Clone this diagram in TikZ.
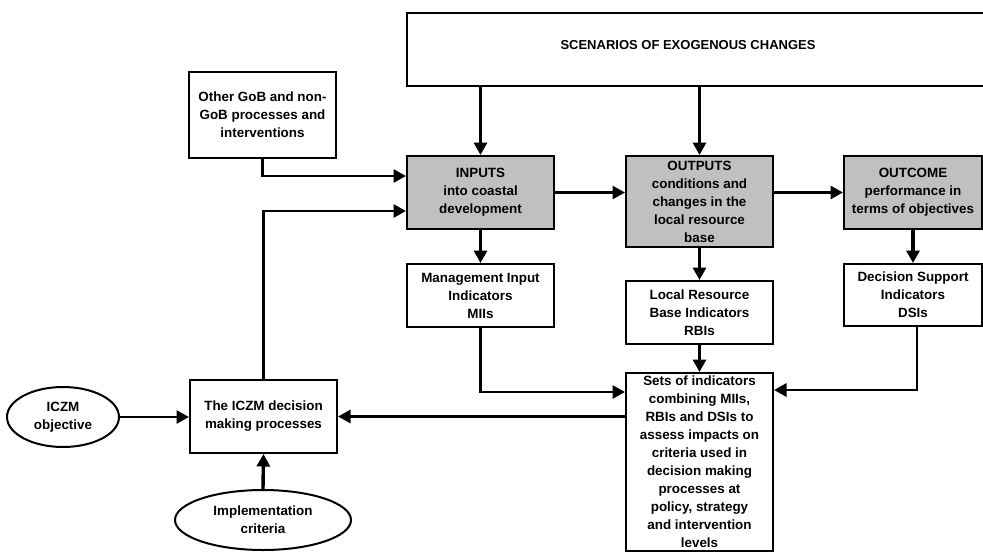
\documentclass[tikz,border=0pt]{standalone}
\usepackage{fontspec}
\setmainfont{Liberation Sans}
\usetikzlibrary{arrows.meta,shapes.geometric}
\definecolor{boxgray}{RGB}{192,192,192}
\begin{document}
\begin{tikzpicture}[x=1pt,y=-1pt,
  txt/.style={font=\fontsize{13.4}{18}\selectfont\bfseries, align=center},
  box/.style={txt, draw, line width=2pt, inner sep=0pt},
  gbox/.style={box, fill=boxgray},
  ell/.style={txt, draw, ellipse, line width=2pt, inner sep=0pt},
  conn/.style={line width=2.8pt, -{Triangle[length=12.5pt,width=13pt]}},
  vconn/.style={conn, line width=3.4pt}]
\useasboundingbox (0,0) rectangle (983,552);
\begin{scope}
\clip (0,0) rectangle (983,552);
\node[box, minimum width=584, minimum height=73, anchor=north west] (scen) at (406,12) {};
\node[font=\fontsize{13}{15}\selectfont\bfseries] (scentext) at (688,45) {SCENARIOS OF EXOGENOUS CHANGES};
\node[box, minimum width=147, minimum height=86] (other) at (262.5,115) {Other GoB and non-\\GoB processes and\\interventions};
\node[gbox, minimum width=147, minimum height=73] (inputs) at (480.5,192.5) {INPUTS\\into coastal\\development};
\node[gbox, minimum width=147, minimum height=91] (outputs) at (699.5,201.5) {OUTPUTS\\conditions and\\changes in the\\local resource\\base};
\node[gbox, minimum width=138, minimum height=73] (outcome) at (913,192.5) {OUTCOME\\performance in\\terms of objectives};
\node[box, minimum width=147, minimum height=63] (mii) at (480.5,295.5) {Management Input\\Indicators\\MIIs};
\node[box, minimum width=147, minimum height=63] (rbi) at (699.5,312.5) {Local Resource\\Base Indicators\\RBIs};
\node[box, minimum width=138, minimum height=62] (dsi) at (913,295) {Decision Support\\Indicators\\DSIs};
\node[box, minimum width=147, minimum height=178] (sets) at (699.5,462) {Sets of indicators\\combining MIIs,\\RBIs and DSIs to\\assess impacts on\\criteria used in\\decision making\\processes at\\policy, strategy\\and intervention\\levels};
\node[box, minimum width=147, minimum height=73] (dec) at (263.5,416.5) {The ICZM decision\\making processes};
\node[ell, minimum width=112, minimum height=60] (obj) at (63,417) {ICZM\\objective};
\node[ell, minimum width=176, minimum height=60] (impl) at (263,520) {Implementation\\criteria};

\draw[vconn] (scen.south -| inputs.north) -- (inputs.north);
\draw[vconn] (scen.south -| outputs.north) -- (outputs.north);
\draw[conn] (other.south) |- ([yshift=16.5pt]inputs.west);
\draw[conn] (dec.north) |- ([yshift=-18.5pt]inputs.west);
\draw[conn] (inputs.east) -- (inputs.east -| outputs.west);
\draw[conn] (outcome.west -| outputs.east) -- (outcome.west);
\draw[vconn] (inputs.south) -- (mii.north);
\draw[vconn] (outputs.south) -- (rbi.north);
\draw[vconn] (outcome.south) -- (dsi.north);
\draw[vconn] (rbi.south) -- (sets.north);
\draw[conn] (mii.south) |- ([yshift=70pt]sets.west);
\draw[conn] ([xshift=4pt]dsi.south) |- ([yshift=72pt]sets.east);
\draw[conn] (dec.east -| sets.west) -- (dec.east);
\draw[conn] (obj.east) -- (obj.east -| dec.west);
\draw[vconn] (impl.north) -- (dec.south);
\end{scope}
\end{tikzpicture}
\end{document}
